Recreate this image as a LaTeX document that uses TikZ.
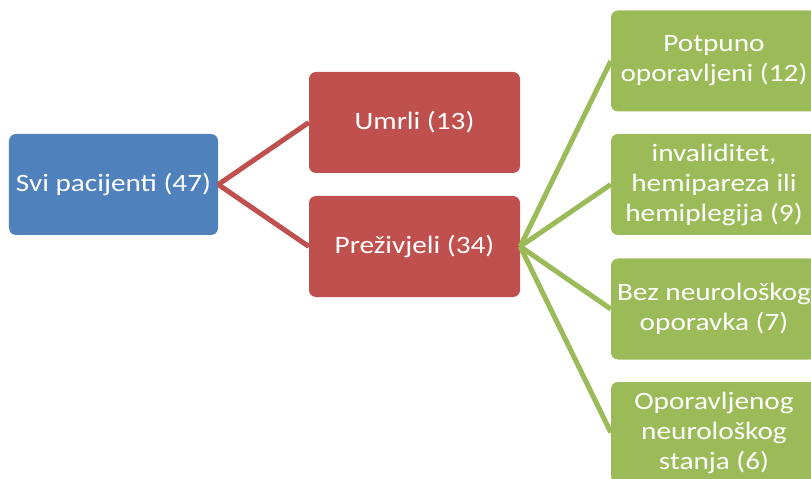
\documentclass[tikz,border=0pt]{standalone}
\usepackage{fontspec}
\setmainfont{Carlito}[FakeStretch=1.17]
\definecolor{cblue}{HTML}{4F81BD}
\definecolor{cred}{HTML}{C0504D}
\definecolor{cgreen}{HTML}{9BBB59}
\begin{document}
\begin{tikzpicture}[x=1bp,y=-1bp,
  box/.style={rounded corners=7bp, text=white, align=center, inner sep=0pt,
    font=\fontsize{25bp}{30bp}\selectfont, minimum height=101bp},
  bluebox/.style={box, fill=cblue, minimum width=209bp},
  redbox/.style={box, fill=cred, minimum width=211bp},
  greenbox/.style={box, fill=cgreen, minimum width=206bp},
  redline/.style={draw=cred, line width=5bp},
  greenline/.style={draw=cgreen, line width=5bp}]
\clip (0,0) rectangle (811,479);
\node[bluebox] (all) at (113.5,184.5) {Svi pacijenti (47)};
\node[redbox] (dead) at (414.5,122.5) {Umrli (13)};
\node[redbox] (alive) at (414.5,246.5) {Preživjeli (34)};
\node[greenbox] (g1) at (714,61) {Potpuno\\oporavljeni (12)};
\node[greenbox] (g2) at (714,184.5) {invaliditet,\\hemipareza ili\\hemiplegija (9)};
\node[greenbox] (g3) at (714,309) {Bez neurološkog\\oporavka (7)};
\node[greenbox] (g4) at (714,432.5) {Oporavljenog\\neurološkog\\stanja (6)};
\draw[redline] (all.east) -- (dead.west);
\draw[redline] (all.east) -- (alive.west);
\foreach \g in {g1,g2,g3,g4}
  \draw[greenline] (alive.east) -- (\g.west);
\end{tikzpicture}
\end{document}
